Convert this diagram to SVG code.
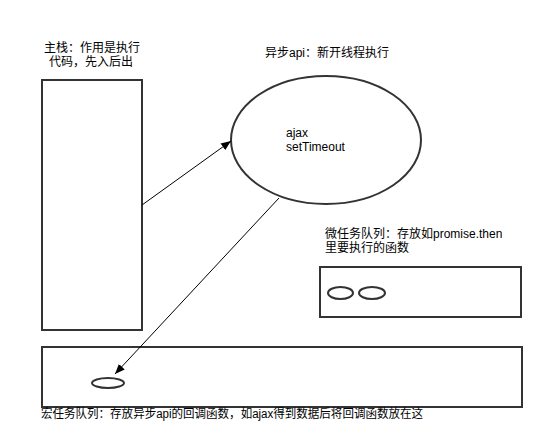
<svg xmlns="http://www.w3.org/2000/svg" width="542" height="442" viewBox="0 0 542 442">
<style>
.shape{fill:#fff;stroke:#333;stroke-width:2}
.small{fill:none;stroke:#333;stroke-width:2}
.conn{fill:none;stroke:#000;stroke-width:1}
text{font-family:"Liberation Sans","Noto Sans CJK SC",sans-serif;font-size:12px;fill:#000}
</style>
<defs>
<marker id="arr" viewBox="0 0 10 10" refX="10" refY="5" markerWidth="10" markerHeight="10" markerUnits="userSpaceOnUse" orient="auto">
<path d="M0,1 L10,5 L0,9 Z" fill="#000"/>
</marker>
</defs>
<rect width="542" height="442" fill="#fff"/>
<g id="main-stack">
<rect class="shape" x="42" y="80" width="100" height="250"/>
<text x="92" y="52" text-anchor="middle">主栈：作用是执行</text>
<text x="91" y="66" text-anchor="middle">代码，先入后出</text>
</g>
<g id="async-api">
<ellipse class="shape" cx="326" cy="140" rx="95" ry="64"/>
<text x="265" y="57">异步api：新开线程执行</text>
<text x="286" y="137">ajax</text>
<text x="286" y="151">setTimeout</text>
</g>
<g id="micro-queue">
<rect class="shape" x="320" y="267" width="201" height="50"/>
<ellipse class="small" cx="340.5" cy="293" rx="12.5" ry="6"/>
<ellipse class="small" cx="372" cy="293" rx="13" ry="6"/>
<text x="325" y="238">微任务队列：存放如promise.then</text>
<text x="325" y="252">里要执行的函数</text>
</g>
<g id="macro-queue">
<rect class="shape" x="42" y="347" width="480" height="60"/>
<ellipse class="small" cx="108" cy="383" rx="16" ry="5"/>
<text x="41" y="418" textLength="382" lengthAdjust="spacingAndGlyphs">宏任务队列：存放异步api的回调函数，如ajax得到数据后将回调函数放在这</text>
</g>
<g id="connectors">
<path class="conn" d="M142,205 L231,141" marker-end="url(#arr)"/>
<path class="conn" d="M279,198 L115,374" marker-end="url(#arr)"/>
</g>
</svg>
